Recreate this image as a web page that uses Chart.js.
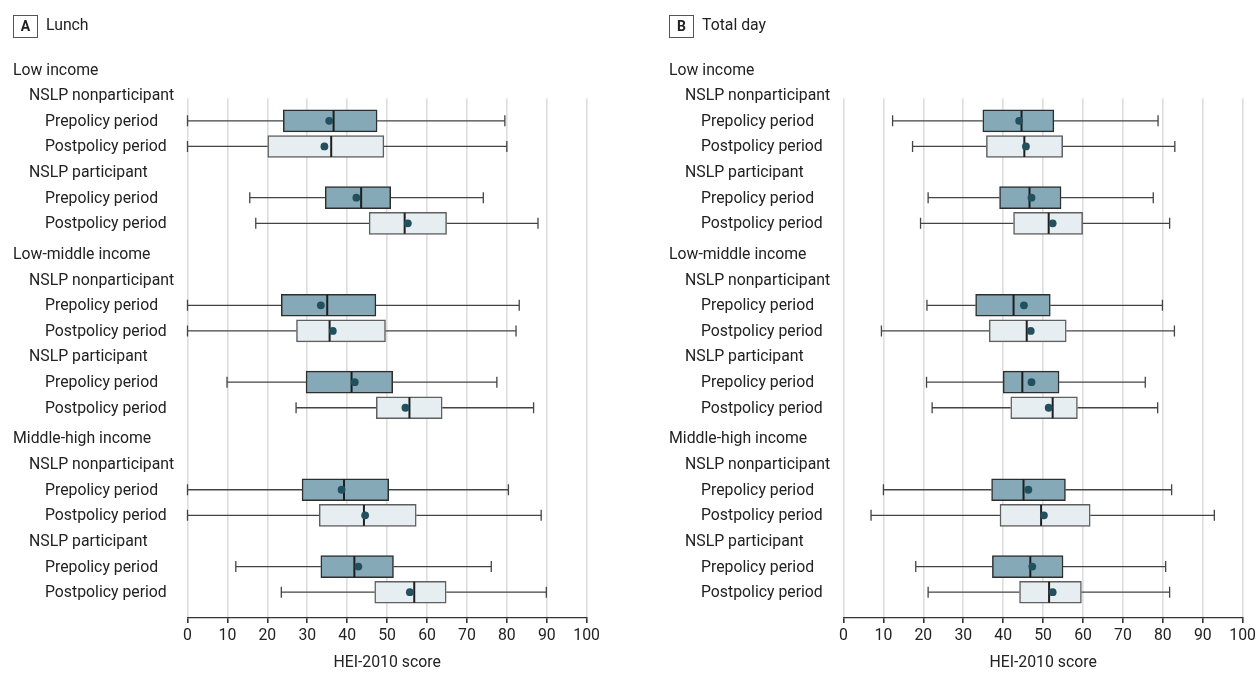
<!DOCTYPE html>
<html>
<head>
<meta charset="utf-8">
<script src="https://cdn.jsdelivr.net/npm/chart.js@4.4.1/dist/chart.umd.min.js"></script>
<style>
  body { margin: 0; background: #fff; }
  .panel { position: absolute; top: 0; }
</style>
</head>
<body>
<div class="panel" style="left:0"><canvas id="lunch" width="603" height="673"></canvas></div>
<div class="panel" style="left:656px"><canvas id="totalDay" width="603" height="673"></canvas></div>
<script>
// rows, in drawing order: income group > NSLP status > period
var incomeGroups = ['Low income', 'Low-middle income', 'Middle-high income'];
var nslpGroups = ['NSLP nonparticipant', 'NSLP participant'];
var periods = ['Prepolicy period', 'Postpolicy period'];
var xTicks = [0, 10, 20, 30, 40, 50, 60, 70, 80, 90, 100];

// A - Lunch (HEI-2010 score)
var lunchMin    = [0, 0, 15.6, 17.1,   0, 0, 9.9, 27.2,   0, 0, 12.1, 23.5];
var lunchQ1     = [24.0, 20.1, 34.5, 45.5,   23.5, 27.3, 29.7, 47.3,   28.7, 33.0, 33.4, 46.9];
var lunchMedian = [36.6, 36.0, 43.5, 54.4,   35.0, 35.6, 41.1, 55.6,   39.2, 44.2, 41.8, 56.8];
var lunchQ3     = [47.5, 49.2, 50.9, 64.9,   47.2, 49.6, 51.4, 63.8,   50.4, 57.3, 51.6, 64.8];
var lunchMax    = [79.5, 80.0, 74.1, 87.8,   83.1, 82.3, 77.5, 86.7,   80.4, 88.6, 76.1, 89.9];
var lunchMean   = [35.5, 34.3, 42.3, 55.2,   33.4, 36.4, 41.9, 54.6,   38.6, 44.5, 42.8, 55.7];

// B - Total day (HEI-2010 score)
var dayMin    = [12.3, 17.3, 21.2, 19.3,   20.9, 9.5, 20.8, 22.2,   10.0, 6.9, 18.1, 21.2];
var dayQ1     = [34.9, 35.8, 39.1, 42.6,   33.1, 36.5, 40.0, 41.9,   37.1, 39.2, 37.3, 44.1];
var dayMedian = [44.6, 45.3, 46.6, 51.4,   42.6, 45.9, 44.8, 52.4,   45.1, 49.5, 46.8, 51.5];
var dayQ3     = [52.7, 54.9, 54.5, 59.9,   51.8, 55.8, 54.0, 58.6,   55.6, 61.8, 55.0, 59.6];
var dayMax    = [78.8, 83.0, 77.6, 81.7,   79.9, 82.9, 75.6, 78.7,   82.2, 92.9, 80.7, 81.7];
var dayMean   = [44.0, 45.7, 47.1, 52.4,   45.2, 46.9, 47.1, 51.4,   46.3, 50.2, 47.3, 52.4];

var FONT = 'Roboto';
var FSIZE = 15.8;
var TEXT = '#222';
var GROUP_STEP = 7.2;

function rowOf(i) {
  var g = Math.floor(i / 4), p = Math.floor((i % 4) / 2), k = i % 2;
  return g * GROUP_STEP + p * 3 + 2 + k;
}

function makeChart(id, letter, title, mins, q1s, meds, q3s, maxs, means) {
  var preBoxes = [], postBoxes = [], meanPts = [];
  for (var i = 0; i < mins.length; i++) {
    var pt = { y: rowOf(i), x: [q1s[i], q3s[i]] };
    if (i % 2 === 0) preBoxes.push(pt); else postBoxes.push(pt);
    meanPts.push({ x: means[i], y: rowOf(i) });
  }

  var boxPlot = {
    id: 'boxPlot',
    beforeDatasetsDraw: function (chart) {
      var ctx = chart.ctx, xs = chart.scales.x, ys = chart.scales.y;
      ctx.save();
      ctx.strokeStyle = '#444';
      ctx.lineWidth = 1.3;
      for (var i = 0; i < mins.length; i++) {
        var y = ys.getPixelForValue(rowOf(i));
        var a = xs.getPixelForValue(mins[i]), b = xs.getPixelForValue(q1s[i]);
        var c = xs.getPixelForValue(q3s[i]), d = xs.getPixelForValue(maxs[i]);
        ctx.beginPath();
        ctx.moveTo(a, y); ctx.lineTo(b, y);
        ctx.moveTo(c, y); ctx.lineTo(d, y);
        ctx.moveTo(a, y - 5.5); ctx.lineTo(a, y + 5.5);
        ctx.moveTo(d, y - 5.5); ctx.lineTo(d, y + 5.5);
        ctx.stroke();
      }
      ctx.restore();
    },
    afterDatasetDraw: function (chart, args) {
      if (args.meta.type !== 'bar') return;
      var ctx = chart.ctx, xs = chart.scales.x, ys = chart.scales.y;
      var start = args.index === 1 ? 0 : 1;
      ctx.save();
      ctx.strokeStyle = '#1e1e1e';
      ctx.lineWidth = 2;
      for (var i = start; i < meds.length; i += 2) {
        var y = ys.getPixelForValue(rowOf(i)), x = xs.getPixelForValue(meds[i]);
        ctx.beginPath();
        ctx.moveTo(x, y - 10.5); ctx.lineTo(x, y + 10.5);
        ctx.stroke();
      }
      ctx.restore();
    },
    afterDraw: function (chart) {
      var ctx = chart.ctx, ys = chart.scales.y;
      ctx.save();
      ctx.fillStyle = TEXT;
      ctx.textBaseline = 'middle';
      ctx.textAlign = 'left';
      ctx.font = FSIZE + 'px ' + FONT;
      for (var g = 0; g < incomeGroups.length; g++) {
        var base = g * GROUP_STEP;
        ctx.fillText(incomeGroups[g], 13, ys.getPixelForValue(base) + 1);
        for (var p = 0; p < nslpGroups.length; p++) {
          var r = base + p * 3 + 1;
          ctx.fillText(nslpGroups[p], 29, ys.getPixelForValue(r) + 1);
          ctx.fillText(periods[0], 45, ys.getPixelForValue(r + 1) + 1);
          ctx.fillText(periods[1], 45, ys.getPixelForValue(r + 2) + 1);
        }
      }
      // panel tag
      ctx.strokeStyle = '#555';
      ctx.lineWidth = 1;
      ctx.strokeRect(13.5, 15.5, 24, 22);
      ctx.font = 'bold 14px ' + FONT;
      ctx.textAlign = 'center';
      ctx.fillText(letter, 25.5, 27.5);
      ctx.textAlign = 'left';
      ctx.font = FSIZE + 'px ' + FONT;
      ctx.fillText(title, 46, 26.5);
      ctx.restore();
    }
  };

  return new Chart(document.getElementById(id), {
    type: 'bar',
    data: {
      datasets: [
        {
          type: 'scatter',
          data: meanPts,
          pointRadius: 3.9,
          pointBackgroundColor: '#22505f',
          pointBorderWidth: 0,
          order: 0
        },
        {
          indexAxis: 'y',
          grouped: false,
          data: preBoxes,
          backgroundColor: '#85a9b7',
          borderColor: '#2e2e2e',
          borderWidth: 1.5,
          borderSkipped: false,
          barThickness: 22,
          order: 1
        },
        {
          indexAxis: 'y',
          grouped: false,
          data: postBoxes,
          backgroundColor: '#e6eef1',
          borderColor: '#5f5f5f',
          borderWidth: 1.5,
          borderSkipped: false,
          barThickness: 22,
          order: 1
        }
      ]
    },
    options: {
      responsive: false,
      animation: false,
      layout: { padding: { left: 187.5, right: 13.5, top: 98.3, bottom: 0 } },
      plugins: { legend: { display: false }, tooltip: { enabled: false } },
      scales: {
        x: {
          type: 'linear',
          min: 0,
          max: 100,
          offset: false,
          afterBuildTicks: function (axis) {
            axis.ticks = xTicks.map(function (v) { return { value: v }; });
          },
          grid: { offset: false, color: '#dedede', lineWidth: 1.6, tickColor: '#333', tickLength: 5 },
          border: { color: '#333', width: 1.3 },
          ticks: { color: TEXT, font: { family: FONT, size: FSIZE }, padding: 3, maxRotation: 0 },
          title: { display: true, text: 'HEI-2010 score', color: TEXT, font: { family: FONT, size: FSIZE }, padding: { top: 6, bottom: 0 } }
        },
        y: {
          type: 'linear',
          display: false,
          offset: false,
          reverse: true,
          min: 1.12,
          max: 21.41
        }
      }
    },
    plugins: [boxPlot]
  });
}

makeChart('lunch', 'A', 'Lunch', lunchMin, lunchQ1, lunchMedian, lunchQ3, lunchMax, lunchMean);
makeChart('totalDay', 'B', 'Total day', dayMin, dayQ1, dayMedian, dayQ3, dayMax, dayMean);
</script>
</body>
</html>
